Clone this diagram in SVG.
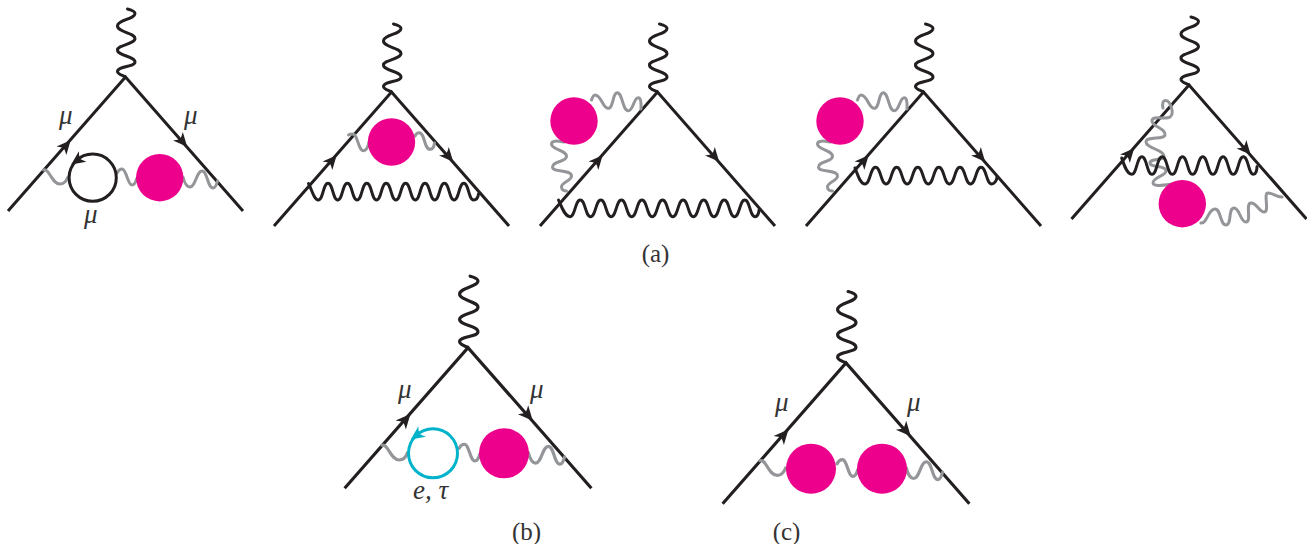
<svg xmlns="http://www.w3.org/2000/svg" width="1307" height="544" viewBox="0 0 1307 544">
<style>
.f{fill:none;stroke:#231f20;stroke-width:3;stroke-linecap:butt;stroke-linejoin:miter}
.w{fill:none;stroke:#231f20;stroke-width:3;stroke-linecap:round;stroke-linejoin:round}
.g{fill:none;stroke:#939598;stroke-width:3;stroke-linecap:round;stroke-linejoin:round}
.blob{fill:#ec008c}
.loop{fill:none;stroke:#231f20;stroke-width:3}
.cyan{fill:none;stroke:#00b3ca;stroke-width:3}
.m{font-family:"Liberation Serif",serif;font-style:italic;font-size:27px;fill:#333}
.cap{font-family:"Liberation Serif",serif;font-size:25px;fill:#333}
</style>
<defs>
<path id="ah" d="M1 0 L-13 -6.5 Q-10 -2 -9.5 0 Q-10 2 -13 6.5 Z"/>
<g id="vee">
<path class="f" d="M-117.5 134 L0 0 L117.5 134"/>
<path class="w" d="M2 -68 Q9.5 -66 9.5 -63.5 C9.5 -58 -8 -57 -8 -51 C-8 -45 9.5 -44 9.5 -38.5 C9.5 -33 -8 -32 -8 -27 C-8 -21 9.5 -21 9.5 -15 C9.5 -10 -8 -11 -8 -5.5 C-8 -3 -4 -2 0 0"/>
<use href="#ah" fill="#231f20" transform="translate(-55.5 64) rotate(-48.8)"/>
<use href="#ah" fill="#231f20" transform="translate(61 69) rotate(48.8)"/>
</g>
<g id="bubble">
<path class="g" d="M-82 93 C-76 91 -74 107 -65.5 107 C-61 107 -59 104 -57.5 100"/>
<path class="g" d="M-8.5 96 C-7 93 -6 92 -3.5 92 C1 92 2 108 6.5 108 C8 108 10 106 11 102"/>
<path class="g" d="M57.5 100 C59 106 61 110 64.5 110 C70 110 71 94 76.5 94 C82 94 82 111 87.5 111 C90 111 91 108 92 104"/>
</g>
<g id="side">
<path class="g" d="M-66 8 C-65 5 -64 3 -62.5 3 C-56 3 -55 16.3 -49.2 16.3 C-44 16.3 -45 .7 -40.2 .7 C-35 .7 -35 18.7 -29.2 18.7 C-24 18.7 -24 5.7 -19.2 5.7 C-17 5.7 -16 10 -16.5 17"/>
<path class="g" d="M-93 50 C-100 49 -106 48 -106 52 C-106 58 -91 58 -91 64.5 C-91 70 -105 69 -105 75 C-105 81 -86 77 -86 84 C-86 89 -96 90 -96 95 C-96 98 -93 99 -91 99"/>
</g>
</defs>
<g id="connectors">
<use href="#vee" transform="translate(125.5 77)"/>
<use href="#bubble" transform="translate(125.5 77)"/>
<use href="#vee" transform="translate(391.5 92)"/>
<path class="g" d="M348.5 135 C350 134 351 134 352.5 134 C358 134 358 150.7 363.5 150.7 C366 150.7 368 147 369 142"/>
<path class="g" d="M415 136 C416 134 417 132.7 419 132.7 C425 132.7 424 149.3 430 149.3 C432 149.3 434 147 434.5 143"/>
<path class="w" d="M308.5 183.5 C312 190 314 200 318.3 200 c4.85 0 4.85 -16.7 9.7 -16.7 c4.85 0 4.85 16.7 9.7 16.7 c4.85 0 4.85 -16.7 9.7 -16.7 c4.85 0 4.85 16.7 9.7 16.7 c4.85 0 4.85 -16.7 9.7 -16.7 c4.85 0 4.85 16.7 9.7 16.7 c4.85 0 4.85 -16.7 9.7 -16.7 c4.85 0 4.85 16.7 9.7 16.7 c4.85 0 4.85 -16.7 9.7 -16.7 c4.85 0 4.85 16.7 9.7 16.7 c4.85 0 4.85 -16.7 9.7 -16.7 c4.85 0 4.85 16.7 9.7 16.7 c4.85 0 4.85 -16.7 9.7 -16.7 c4.85 0 4.85 16.7 9.7 16.7 c4.85 0 4.85 -16.7 9.7 -16.7 c4.85 0 4.85 16.7 9.7 16.7 C476 200 478 198 478.5 194"/>
<use href="#vee" transform="translate(657.5 92)"/>
<use href="#side" transform="translate(657.5 92)"/>
<path class="w" d="M558.5 200 C562 208 565 216.7 570 216.7 c5.14 0 5.14 -16.7 10.28 -16.7 c5.14 0 5.14 16.7 10.28 16.7 c5.14 0 5.14 -16.7 10.28 -16.7 c5.14 0 5.14 16.7 10.28 16.7 c5.14 0 5.14 -16.7 10.28 -16.7 c5.14 0 5.14 16.7 10.28 16.7 c5.14 0 5.14 -16.7 10.28 -16.7 c5.14 0 5.14 16.7 10.28 16.7 c5.14 0 5.14 -16.7 10.28 -16.7 c5.14 0 5.14 16.7 10.28 16.7 c5.14 0 5.14 -16.7 10.28 -16.7 c5.14 0 5.14 16.7 10.28 16.7 c5.14 0 5.14 -16.7 10.28 -16.7 c5.14 0 5.14 16.7 10.28 16.7 c5.14 0 5.14 -16.7 10.28 -16.7 c5.14 0 5.14 16.7 10.28 16.7 c5.14 0 5.14 -16.7 10.28 -16.7 c5.14 0 5.14 16.7 10.28 16.7 C757 216.7 759 214 759 210"/>
<use href="#vee" transform="translate(923.5 92)"/>
<use href="#side" transform="translate(923.5 92)"/>
<path class="w" d="M855 168 C858 175 860 184 865 184 c5.28 0 5.28 -16.7 10.55 -16.7 c5.28 0 5.28 16.7 10.55 16.7 c5.28 0 5.28 -16.7 10.55 -16.7 c5.28 0 5.28 16.7 10.55 16.7 c5.28 0 5.28 -16.7 10.55 -16.7 c5.28 0 5.28 16.7 10.55 16.7 c5.28 0 5.28 -16.7 10.55 -16.7 c5.28 0 5.28 16.7 10.55 16.7 c5.28 0 5.28 -16.7 10.55 -16.7 c5.28 0 5.28 16.7 10.55 16.7 c5.28 0 5.28 -16.7 10.55 -16.7 c5.28 0 5.28 16.7 10.55 16.7 C994 184 997 181 997 176.5"/>
<use href="#vee" transform="translate(1189 85)"/>
<path class="g" d="M1163 108 C1162 103 1163 100 1166 100.5 C1170 101 1175 113 1170 117 C1166 120 1152 115 1152 121 C1152 127 1166 128 1165 135 C1164 140 1146 136 1146 142 C1146 148 1164 150 1164 156 C1164 161 1150 158 1150 163 C1150 168 1166 165 1166 171 C1166 176 1153 177 1153 183 C1153 187 1165 185 1172 184"/>
<path class="g" d="M1201 223 C1207 224 1208 209 1215 209 C1221 209 1220 225 1226 225 C1232 225 1228 208 1234 208 C1240 208 1240 222 1246 222 C1252 222 1245 203 1251 203 C1257 203 1259 212 1264 212 C1270 212 1263 193 1268 193 C1273 193 1276 197 1282 197"/>
<path class="w" d="M1121.7 158 C1124 165 1127 174.3 1131.7 174.3 c5.08 0 5.08 -17.5 10.15 -17.5 c5.08 0 5.08 17.5 10.15 17.5 c5.08 0 5.08 -17.5 10.15 -17.5 c5.08 0 5.08 17.5 10.15 17.5 c5.08 0 5.08 -17.5 10.15 -17.5 c5.08 0 5.08 17.5 10.15 17.5 c5.08 0 5.08 -17.5 10.15 -17.5 c5.08 0 5.08 17.5 10.15 17.5 c5.08 0 5.08 -17.5 10.15 -17.5 c5.08 0 5.08 17.5 10.15 17.5 c5.08 0 5.08 -17.5 10.15 -17.5 c5.08 0 5.08 17.5 10.15 17.5 C1255.5 174.3 1257 171 1257 166.5"/>
<use href="#vee" transform="translate(468 347.6) scale(1.05)"/>
<use href="#bubble" transform="translate(468 347.6) scale(1.05)"/>
<use href="#vee" transform="translate(846 363) scale(1.05)"/>
<use href="#bubble" transform="translate(846 363) scale(1.05)"/>
</g>
<g id="a1-loop"><circle class="loop" cx="92.7" cy="177.7" r="23.6"/><use href="#ah" fill="#231f20" transform="translate(72 164) rotate(145)"/></g>
<g id="a1-blob"><circle class="blob" cx="159.7" cy="177.7" r="23.7"/></g>
<g id="a2-blob"><circle class="blob" cx="391.5" cy="142" r="23.7"/></g>
<g id="a3-blob"><circle class="blob" cx="574" cy="121" r="23.7"/></g>
<g id="a4-blob"><circle class="blob" cx="840" cy="121" r="23.7"/></g>
<g id="a5-blob"><circle class="blob" cx="1182.3" cy="203.7" r="23.7"/></g>
<g id="b-loop"><circle class="cyan" cx="433" cy="453.3" r="24.5"/><use href="#ah" fill="#00b3ca" transform="translate(411.5 439) rotate(145)"/></g>
<g id="b-blob"><circle class="blob" cx="504" cy="453.3" r="25"/></g>
<g id="c-blob1"><circle class="blob" cx="811" cy="468.7" r="25"/></g>
<g id="c-blob2"><circle class="blob" cx="882" cy="468.7" r="25"/></g>
<g id="labels">
<text class="m" x="59" y="124">μ</text>
<text class="m" x="184" y="124">μ</text>
<text class="m" x="84" y="223">μ</text>
<text class="m" x="398" y="398">μ</text>
<text class="m" x="530" y="398">μ</text>
<text class="m" x="413" y="499">e, τ</text>
<text class="m" x="775" y="411">μ</text>
<text class="m" x="907" y="411">μ</text>
<text class="cap" x="655.5" y="262" text-anchor="middle">(a)</text>
<text class="cap" x="526.5" y="540" text-anchor="middle">(b)</text>
<text class="cap" x="786.5" y="540" text-anchor="middle">(c)</text>
</g>
</svg>
